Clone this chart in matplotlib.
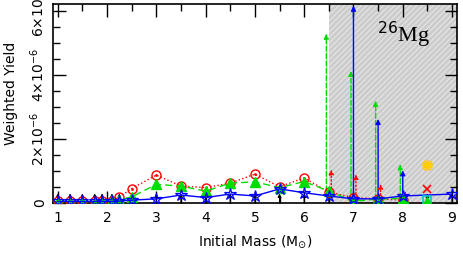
import matplotlib
matplotlib.use('Agg')
import matplotlib.pyplot as plt
from matplotlib.ticker import MultipleLocator

plt.rcParams['font.family'] = ['DejaVu Sans']
plt.rcParams['hatch.color'] = '#e9e9e9'
plt.rcParams['hatch.linewidth'] = 0.7

# initial masses (Msun) and weighted yields (units of 1e-6)
mass = [1, 1.25, 1.5, 1.75, 1.9, 2.1, 2.25, 2.5, 3, 3.5, 4, 4.5, 5, 5.5, 6, 6.5, 7, 7.5, 8]
red = [0.05, 0.05, 0.05, 0.05, 0.05, 0.06, 0.19, 0.45, 0.87, 0.53, 0.48, 0.62, 0.90, 0.51, 0.78, 0.34, 0.17, 0.13, 0.09]
green = [0.04, 0.04, 0.04, 0.04, 0.04, 0.10, 0.10, 0.19, 0.58, 0.53, 0.37, 0.62, 0.66, 0.48, 0.67, 0.37, 0.06, 0.12, 0.15]
blue_mass = mass + [9]
blue = [0.05, 0.05, 0.05, 0.05, 0.05, 0.05, 0.06, 0.09, 0.13, 0.25, 0.17, 0.28, 0.22, 0.44, 0.32, 0.22, 0.13, 0.13, 0.22, 0.28]

# upper arrows for the massive models
arr_mass = [6.5, 7, 7.5, 8]
green_top = [5.28, 4.12, 3.19, 1.21]
blue_top = [0.22, 6.15, 2.62, 1.02]
red_top = [1.05, 0.90, 0.60, 0.37]

# black lower-limit arrows at every model
lim_mass = mass + [8.5, 9]
lim_top = 0.3

# extra points at 8.5 Msun
sun_x, sun_y = 8.5, 1.2
cross_x, cross_y = 8.5, 0.45
sq_x, sq_y = 8.5, 0.1

s = 1e-6
fig = plt.figure(figsize=(4.63, 2.57), dpi=100)
ax = fig.add_axes([0.114, 0.21, 0.873, 0.774])

ax.axvspan(6.5, 9.2, facecolor='#cccccc', hatch='//////', edgecolor='#e9e9e9', lw=0, zorder=0)

def arrow(x, y0, y1, color, ls, lw=1.0, ms=7):
    ax.annotate('', xy=(x, y1 * s), xytext=(x, y0 * s),
                arrowprops=dict(arrowstyle='-|>', color=color, lw=lw, ls=ls,
                                mutation_scale=ms, shrinkA=0, shrinkB=0), zorder=4)

for x in lim_mass:
    arrow(x, 0, lim_top, 'black', '-', lw=0.8, ms=5)

ax.plot(mass, [v * s for v in red], color='red', ls=':', lw=1.0, marker='o', ms=6.5,
        mfc='none', mec='red', mew=1.0, zorder=5)
ax.plot(mass, [v * s for v in red], ls='none', marker='.', ms=2, color='red', zorder=5)
ax.plot(mass, [v * s for v in green], color='#00dd00', ls=(0, (5, 3)), lw=1.0, marker='^', ms=6.5,
        mfc='#00dd00', mec='#00dd00', zorder=6)
ax.plot(blue_mass, [v * s for v in blue], color='blue', ls='-', lw=1.0, marker='*', ms=9,
        mfc='none', mec='blue', mew=0.9, zorder=7)

gidx = [mass.index(m) for m in arr_mass]
for m, i, t in zip(arr_mass, gidx, green_top):
    arrow(m - 0.05, green[i], t, '#00dd00', '--')
for m, i, t in zip(arr_mass, gidx, blue_top):
    if t > blue[i] + 0.1:
        arrow(m, blue[i], t, 'blue', '-')
for m, i, t in zip(arr_mass, gidx, red_top):
    arrow(m + 0.05, red[i], t, 'red', ':')

ax.plot(sun_x, sun_y * s, marker='o', ms=4, color='#ffcc00', zorder=8)
ax.plot(sun_x, sun_y * s, marker=(12, 2, 0), ms=8, color='#ffcc00', mew=1.0, zorder=8)
ax.plot(cross_x, cross_y * s, marker='x', ms=6, color='red', mew=1.2, zorder=8)
ax.plot(sq_x, sq_y * s, marker='s', ms=6, mfc='none', mec='#00cccc', mew=1.2, zorder=8)
ax.plot(sq_x, sq_y * s, marker='^', ms=4, color='#00dd00', zorder=8)

ax.text(7.47, 5.0 * s, r'$^{26}$Mg', fontsize=16, family='Liberation Serif', va='baseline', ha='left')

ax.set_xlim(0.9, 9.1)
ax.set_ylim(0, 6.2e-6)
ax.xaxis.set_major_locator(MultipleLocator(1))
ax.xaxis.set_minor_locator(MultipleLocator(0.5))
ax.yaxis.set_major_locator(MultipleLocator(2e-6))
ax.yaxis.set_minor_locator(MultipleLocator(0.5e-6))
ax.set_yticks([0, 2e-6, 4e-6, 6e-6])
ax.set_yticklabels(['0', r'2$\times$10$^{-6}$', r'4$\times$10$^{-6}$', r'6$\times$10$^{-6}$'],
                   rotation=90, va='center')
ax.tick_params(which='both', direction='in', top=True, right=True, width=1.0, labelsize=10)
ax.tick_params(axis='y', pad=4)
ax.tick_params(axis='x', pad=6)
ax.tick_params(which='major', length=9)
ax.tick_params(which='minor', length=5)
for sp in ax.spines.values():
    sp.set_linewidth(1.2)

ax.set_xlabel(r'Initial Mass (M$_{\odot}$)', fontsize=10, labelpad=6)
ax.set_ylabel('Weighted Yield', fontsize=10)
ax.yaxis.set_label_coords(-0.085, 0.55)

fig.savefig('out.png', dpi=100)
